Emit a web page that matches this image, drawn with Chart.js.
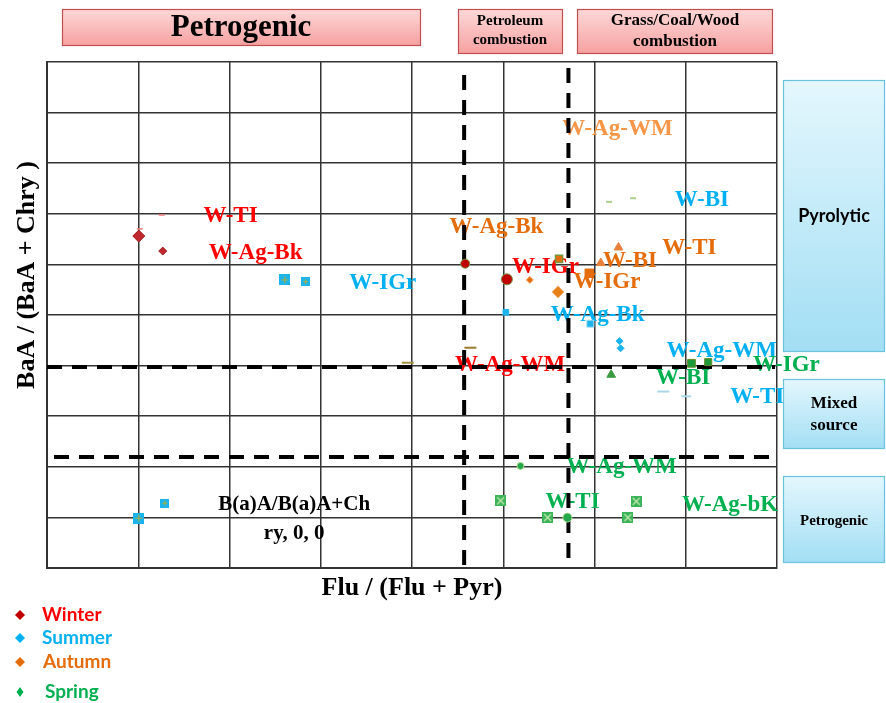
<!DOCTYPE html>
<html>
<head>
<meta charset="utf-8">
<script src="https://cdn.jsdelivr.net/npm/chart.js@4.4.1/dist/chart.umd.min.js"></script>
<style>
html, body { margin: 0; padding: 0; background: #fff; }
canvas { display: block; }
</style>
</head>
<body>
<canvas id="sourceChart" width="886" height="703"></canvas>
<script>
// values (x = Flu/(Flu+Pyr), y = BaA/(BaA+Chry))
const seasons = ['Winter', 'Summer', 'Autumn', 'Spring'];

const winterX = [0.088, 0.111, 0.401, 0.441, 0.110, 0.089, 0.406, 0.346];
const winterY = [0.568, 0.543, 0.522, 0.496, 0.603, 0.580, 0.382, 0.357];

const summerX = [0.228, 0.248, 0.088, 0.113, 0.440, 0.521, 0.549, 0.550, 0.591, 0.613];
const summerY = [0.495, 0.492, 0.098, 0.123, 0.441, 0.422, 0.393, 0.381, 0.309, 0.301];

const autumnX = [0.463, 0.490, 0.491, 0.520, 0.548, 0.531];
const autumnY = [0.495, 0.475, 0.530, 0.506, 0.549, 0.523];

const springX = [0.541, 0.618, 0.634, 0.454, 0.499, 0.435, 0.480, 0.565, 0.557, 0.539, 0.562];
const springY = [0.337, 0.356, 0.358, 0.185, 0.099, 0.127, 0.099, 0.126, 0.099, 0.625, 0.631];

// source thresholds
const fluLimits = [0.4, 0.5];
const baaLimits = [0.2, 0.35];

// site labels written inside the plot (season index, -1 = note)
const siteLabels = ['W-TI', 'W-Ag-Bk', 'W-IGr', 'W-Ag-WM',
  'W-IGr', 'W-BI', 'W-Ag-Bk', 'W-Ag-WM', 'W-TI',
  'W-Ag-WM', 'W-Ag-Bk', 'W-BI', 'W-TI', 'W-IGr',
  'W-IGr', 'W-BI', 'W-Ag-WM', 'W-TI', 'W-Ag-bK',
  'B(a)A/B(a)A+Ch', 'ry, 0, 0'];
const siteLabelSeason = [0, 0, 0, 0, 1, 1, 1, 1, 1, 2, 2, 2, 2, 2, 3, 3, 3, 3, 3, -1, -1];
const siteLabelX = [0.176, 0.200, 0.478, 0.444,
  0.322, 0.628, 0.528, 0.647, 0.681,
  0.547, 0.431, 0.559, 0.616, 0.537,
  0.709, 0.610, 0.551, 0.504, 0.655,
  0.237, 0.237];
const siteLabelY = [0.602, 0.540, 0.517, 0.353,
  0.490, 0.628, 0.437, 0.377, 0.300,
  0.747, 0.583, 0.527, 0.548, 0.492,
  0.353, 0.332, 0.183, 0.125, 0.120,
  0.120, 0.073];

const xMin = 0, xMax = 0.7;
const yMin = 0.015, yMax = 0.858;

const seasonColors = ['#ff0000', '#00b0f0', '#e46c0a', '#00b050'];
const legendMarkColors = ['#c00000', '#00b0f0', '#e46c0a', '#00b050'];

function boxMarker(fill, line, kind, size) {
    const c = document.createElement('canvas');
    c.width = size; c.height = size;
    const g = c.getContext('2d');
    g.fillStyle = fill;
    g.fillRect(0, 0, size, size);
    g.strokeStyle = line;
    g.lineWidth = 1.2;
    g.beginPath();
    if (kind === 'plus') {
        g.moveTo(size / 2, 2); g.lineTo(size / 2, size - 2);
        g.moveTo(2, size / 2); g.lineTo(size - 2, size / 2);
    } else {
        g.moveTo(2, 2); g.lineTo(size - 2, size - 2);
        g.moveTo(size - 2, 2); g.lineTo(2, size - 2);
    }
    g.stroke();
    return c;
}

const blueSq = boxMarker('#1cb4ec', '#a8b040', 'plus', 11);
const blueSqSmall = boxMarker('#1cb4ec', '#a8b040', 'plus', 9);
const greenSq = boxMarker('#3cb55a', '#c8e8b0', 'x', 11);

// [pointStyle, radius, fill, border, borderWidth]
const markerStyles = [
    [['rectRot', 6, '#c0282e', '#a01e22', 1], ['rectRot', 4, '#c0282e', '#a01e22', 1],
     ['circle', 4.5, '#c00000', '#77933c', 1], ['circle', 5.5, '#c00000', '#77933c', 1],
     ['line', 3, '#f08080', '#f08080', 1.5], ['line', 3, '#f08080', '#f08080', 1.5],
     ['line', 6, '#9c7a30', '#9c7a30', 2], ['line', 6, '#a09040', '#a09040', 2]],
    [[blueSq, 5, '', '', 0], [blueSqSmall, 5, '', '', 0], [blueSq, 5, '', '', 0], [blueSqSmall, 5, '', '', 0],
     ['rect', 4, '#1cb4ec', '#1cb4ec', 1], ['rect', 5, '#1cb4ec', '#b0e0f0', 1],
     ['rectRot', 3.5, '#1cb4ec', '#1cb4ec', 1], ['rectRot', 3.5, '#1cb4ec', '#1cb4ec', 1],
     ['line', 6, '#a8d8e8', '#a8d8e8', 2], ['line', 5, '#a8d8e8', '#a8d8e8', 2]],
    [['rectRot', 3.5, '#e46c0a', '#f4a060', 1], ['rectRot', 6, '#e8801a', '#f4b070', 1],
     ['rect', 5, '#e46c0a', '#77933c', 1.5], ['rect', 6, '#e46c0a', '#e46c0a', 1],
     ['triangle', 5, '#e8803a', '#e8803a', 1], ['triangle', 5, '#e8803a', '#e8803a', 1]],
    [['triangle', 5, '#3a9a40', '#3a9a40', 1], ['rect', 5.5, '#1e9a3a', '#6a8a2a', 1], ['rect', 5, '#1e9a3a', '#6a8a2a', 1],
     ['circle', 3.5, '#22a84a', '#b0d890', 1], ['circle', 4.5, '#22a84a', '#b0d890', 1],
     [greenSq, 5, '', '', 0], [greenSq, 5, '', '', 0], [greenSq, 5, '', '', 0], [greenSq, 5, '', '', 0],
     ['line', 3, '#a9d18e', '#a9d18e', 2], ['line', 3, '#a9d18e', '#a9d18e', 2]]
];

const seriesX = [winterX, summerX, autumnX, springX];
const seriesY = [winterY, summerY, autumnY, springY];

const datasets = seasons.map((name, s) => ({
    label: name,
    data: seriesX[s].map((x, i) => ({ x: x, y: seriesY[s][i] })),
    pointStyle: c => markerStyles[s][c.dataIndex][0],
    pointRadius: c => markerStyles[s][c.dataIndex][1],
    pointHoverRadius: c => markerStyles[s][c.dataIndex][1],
    backgroundColor: c => markerStyles[s][c.dataIndex][2],
    borderColor: c => markerStyles[s][c.dataIndex][3],
    borderWidth: c => markerStyles[s][c.dataIndex][4],
    clip: false
}));

function gradBox(ctx, x, y, w, h, top, bottom, border) {
    const g = ctx.createLinearGradient(0, y, 0, y + h);
    g.addColorStop(0, top);
    g.addColorStop(1, bottom);
    ctx.fillStyle = g;
    ctx.fillRect(x, y, w, h);
    ctx.strokeStyle = border;
    ctx.lineWidth = 1.2;
    ctx.strokeRect(x + 0.5, y + 0.5, w - 1, h - 1);
}

function boxText(ctx, lines, cx, cy, font, lh) {
    ctx.fillStyle = '#000';
    ctx.font = font;
    ctx.textAlign = 'center';
    ctx.textBaseline = 'middle';
    lines.forEach((t, i) => ctx.fillText(t, cx, cy + (i - (lines.length - 1) / 2) * lh));
}

const decorPlugin = {
    id: 'decor',
    beforeDatasetsDraw(chart) {
        const { ctx, chartArea, scales } = chart;
        const xs = scales.x, ys = scales.y;
        ctx.save();
        // site labels
        ctx.textAlign = 'center';
        ctx.textBaseline = 'middle';
        siteLabels.forEach((t, i) => {
            const s = siteLabelSeason[i];
            let col = s < 0 ? '#000' : seasonColors[s];
            if (s === 2 && i === 9) col = '#f79646';
            ctx.fillStyle = col;
            ctx.font = s < 0 ? 'bold 21px "Liberation Serif"' : 'bold 23px "Liberation Serif"';
            ctx.fillText(t, xs.getPixelForValue(siteLabelX[i]), ys.getPixelForValue(siteLabelY[i]));
        });
        // threshold lines
        ctx.strokeStyle = '#000';
        ctx.lineWidth = 4;
        ctx.setLineDash([15, 10]);
        fluLimits.forEach((v, i) => {
            const px = xs.getPixelForValue(v);
            ctx.beginPath();
            ctx.moveTo(px, chartArea.top + (i === 0 ? 13 : 6));
            ctx.lineTo(px, chartArea.bottom);
            ctx.stroke();
        });
        baaLimits.forEach((v, i) => {
            const py = ys.getPixelForValue(v);
            ctx.beginPath();
            ctx.moveTo(chartArea.left + (i === 0 ? 7 : 0), py);
            ctx.lineTo(chartArea.right - (i === 0 ? 8 : 2), py);
            ctx.stroke();
        });
        ctx.restore();
    },
    afterDraw(chart) {
        const { ctx } = chart;
        ctx.save();
        // source boxes above the plot
        gradBox(ctx, 62, 9, 359, 37, '#fdd8d8', '#f7a0a0', '#c0504d');
        boxText(ctx, ['Petrogenic'], 241, 28, 'bold 31px "Liberation Serif"', 0);
        gradBox(ctx, 458, 9, 105, 45, '#fdd8d8', '#f7a0a0', '#c0504d');
        boxText(ctx, ['Petroleum', 'combustion'], 510, 31, 'bold 15px "Liberation Serif"', 19);
        gradBox(ctx, 577, 9, 196, 45, '#fdd8d8', '#f7a0a0', '#c0504d');
        boxText(ctx, ['Grass/Coal/Wood', 'combustion'], 675, 31, 'bold 17px "Liberation Serif"', 21);
        // source boxes right of the plot
        gradBox(ctx, 783, 80, 102, 272, '#e4f7fd', '#a2def4', '#6cc3dd');
        boxText(ctx, ['Pyrolytic'], 834, 216, 'bold 18px Lato', 0);
        gradBox(ctx, 783, 379, 102, 70, '#e4f7fd', '#a2def4', '#6cc3dd');
        boxText(ctx, ['Mixed', 'source'], 834, 415, 'bold 17px "Liberation Serif"', 22);
        gradBox(ctx, 783, 476, 102, 87, '#e4f7fd', '#a2def4', '#6cc3dd');
        boxText(ctx, ['Petrogenic'], 834, 521, 'bold 15px "Liberation Serif"', 0);
        // axis titles
        ctx.fillStyle = '#000';
        ctx.font = 'bold 26px "Liberation Serif"';
        ctx.textAlign = 'center';
        ctx.textBaseline = 'middle';
        ctx.fillText('Flu / (Flu + Pyr)', 412, 588);
        ctx.save();
        ctx.translate(27, 275);
        ctx.rotate(-Math.PI / 2);
        ctx.font = 'bold 26px "Liberation Serif"';
        ctx.fillText('BaA / (BaA + Chry )', 0, 0);
        ctx.restore();
        // season legend
        const ly = [615, 638, 662, 692];
        const lx = [42, 42, 43, 45];
        seasons.forEach((name, i) => {
            ctx.fillStyle = legendMarkColors[i];
            ctx.beginPath();
            const w = i === 3 ? 3.5 : 5;
            ctx.moveTo(20, ly[i] - 5);
            ctx.lineTo(20 + w, ly[i]);
            ctx.lineTo(20, ly[i] + 5);
            ctx.lineTo(20 - w, ly[i]);
            ctx.closePath();
            ctx.fill();
            ctx.fillStyle = seasonColors[i];
            ctx.font = 'bold 19px Lato';
            ctx.textAlign = 'left';
            ctx.fillText(name, lx[i], ly[i]);
        });
        ctx.restore();
    }
};

function evenTicks(min, max, n) {
    return axis => {
        axis.ticks = Array.from({ length: n + 1 }, (_, i) => ({ value: min + i * (max - min) / n }));
    };
}

new Chart(document.getElementById('sourceChart').getContext('2d'), {
    type: 'scatter',
    data: { datasets: datasets },
    options: {
        responsive: false,
        animation: false,
        devicePixelRatio: 1,
        layout: { padding: { left: 47, top: 62, right: 109, bottom: 135 } },
        plugins: {
            legend: { display: false },
            tooltip: { enabled: false }
        },
        scales: {
            x: {
                type: 'linear',
                min: xMin,
                max: xMax,
                afterBuildTicks: evenTicks(xMin, xMax, 8),
                ticks: { display: false },
                grid: { color: '#333', lineWidth: 1.5, drawTicks: false },
                border: { color: '#333', width: 2 }
            },
            y: {
                type: 'linear',
                min: yMin,
                max: yMax,
                afterBuildTicks: evenTicks(yMin, yMax, 10),
                ticks: { display: false },
                grid: { color: '#333', lineWidth: 1.5, drawTicks: false },
                border: { color: '#333', width: 2 }
            }
        }
    },
    plugins: [decorPlugin]
});
</script>
</body>
</html>
